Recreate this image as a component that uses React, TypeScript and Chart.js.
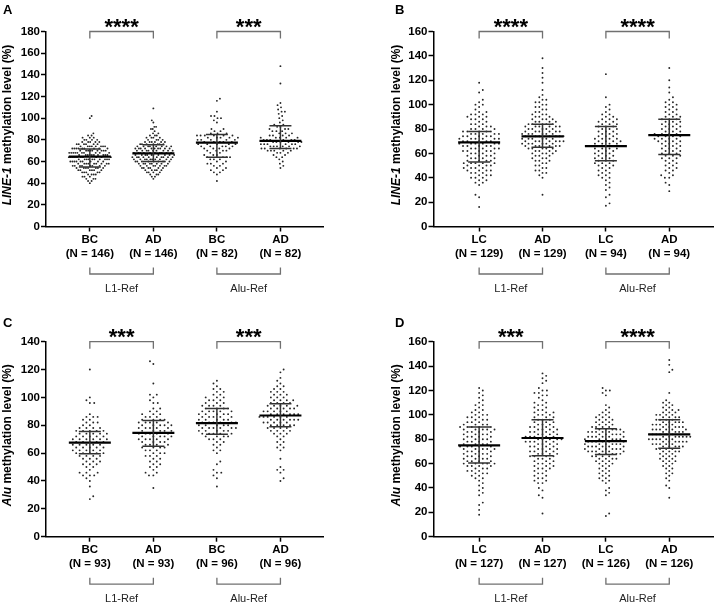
import { useEffect, useRef } from "react";
import { Chart, registerables } from "chart.js";

Chart.register(...registerables);

const FONT = "'Liberation Sans', Arial, Helvetica, sans-serif";
const PAGE_W = 715;
const PAGE_H = 606;
const BIN = 2; // width (in %) of the methylation bins used by the count lists
const Y_AXIS_W = 40;
const X_AXIS_H = 60;
const REST_OF_TITLE = " methylation level (%)";
const REF_LABELS = ["L1-Ref", "Alu-Ref"];

// A group = number of cases per 2 % bin starting at `from`, plus isolated values.
type Group = { from: number; counts: number[]; extra: number[] };

// ---------- Panel A: LINE-1, BC vs AD ----------
const aCats = ["BC", "AD", "BC", "AD"];
const aN = [146, 146, 82, 82];
const aMedian = [64.5, 67.5, 77.5, 79];
const aQ1 = [55, 60, 64, 72];
const aQ3 = [71.5, 75.5, 85, 93];
const aStars = ["****", "***"];
const aBcL1: Group = { from: 40, counts: [1, 2, 3, 3, 4, 5, 6, 7, 8, 9, 9, 10, 10, 10, 10, 9, 9, 8, 6, 5, 4, 3, 2, 1], extra: [100, 102] };
const aAdL1: Group = { from: 44, counts: [1, 2, 3, 4, 5, 6, 7, 8, 9, 10, 10, 10, 10, 9, 10, 8, 7, 6, 4, 4, 3, 2, 1, 2, 2, 0, 1, 1], extra: [109] };
const aBcAlu: Group = { from: 42, counts: [1, 0, 0, 1, 2, 2, 2, 2, 3, 2, 3, 4, 3, 2, 4, 4, 5, 5, 5, 5, 5, 6, 3, 2, 2, 0, 0, 1, 1, 2, 2], extra: [106, 116, 118] };
const aAdAlu: Group = { from: 54, counts: [1, 1, 1, 1, 1, 2, 2, 3, 5, 6, 6, 6, 6, 6, 5, 4, 3, 3, 3, 2, 2, 1, 1, 1, 1, 1, 2, 1, 1, 1, 1], extra: [132, 148] };

// ---------- Panel B: LINE-1, LC vs AD ----------
const bCats = ["LC", "AD", "LC", "AD"];
const bN = [129, 129, 94, 94];
const bMedian = [69, 74, 66, 75];
const bQ1 = [53, 65, 54, 59];
const bQ3 = [78, 84, 82, 88];
const bStars = ["****", "****"];
const bLcL1: Group = { from: 34, counts: [1, 2, 2, 3, 3, 3, 4, 4, 4, 5, 4, 4, 4, 4, 5, 5, 5, 6, 5, 6, 5, 5, 5, 4, 3, 3, 2, 3, 3, 3, 2, 1, 1, 2, 1, 1], extra: [16, 24, 26, 110, 112, 118] };
const bAdL1: Group = { from: 40, counts: [1, 1, 2, 2, 2, 2, 2, 3, 3, 3, 4, 4, 5, 6, 6, 7, 6, 7, 6, 6, 5, 6, 5, 4, 4, 3, 3, 2, 2, 2, 2, 2, 2, 1, 1], extra: [26, 112, 118, 122, 126, 130, 138] };
const bLcAlu: Group = { from: 30, counts: [1, 1, 1, 1, 1, 2, 2, 2, 2, 2, 3, 3, 3, 3, 3, 3, 3, 4, 4, 4, 4, 4, 3, 3, 3, 3, 3, 3, 3, 3, 2, 2, 1, 1, 1, 1], extra: [17, 19, 24, 26, 106, 125] };
const bAdAlu: Group = { from: 34, counts: [1, 1, 0, 2, 2, 1, 2, 2, 2, 2, 2, 3, 3, 3, 3, 3, 3, 3, 4, 4, 4, 4, 3, 3, 3, 3, 3, 3, 3, 2, 2, 2, 2, 2, 2, 1, 1, 0, 1, 0, 1], extra: [29, 120, 130] };

// ---------- Panel C: Alu, BC vs AD ----------
const cCats = ["BC", "AD", "BC", "AD"];
const cN = [93, 93, 96, 96];
const cMedian = [67.5, 74.5, 81.5, 87];
const cQ1 = [59.5, 65, 73.5, 79];
const cQ3 = [75.5, 83.5, 92, 95.5];
const cStars = ["***", "***"];
const cBcL1: Group = { from: 40, counts: [1, 1, 3, 3, 1, 2, 3, 3, 3, 4, 5, 5, 5, 5, 5, 6, 5, 5, 5, 4, 2, 3, 2, 3, 1, 0, 0, 0, 2, 1, 1], extra: [27, 29, 36, 120] };
const cAdL1: Group = { from: 44, counts: [2, 2, 1, 2, 2, 2, 2, 3, 3, 3, 4, 4, 4, 5, 5, 5, 5, 5, 5, 5, 4, 3, 3, 2, 2, 0, 2, 1, 1, 2], extra: [35, 110, 124, 126] };
const cBcAlu: Group = { from: 42, counts: [1, 1, 2, 1, 0, 1, 1, 0, 0, 1, 2, 1, 2, 2, 3, 4, 5, 5, 6, 5, 6, 5, 5, 5, 5, 4, 4, 3, 3, 3, 2, 2, 2, 1, 1, 1], extra: [36] };
const cAdAlu: Group = { from: 40, counts: [1, 1, 0, 1, 2, 1, 0, 0, 1, 0, 0, 1, 2, 1, 2, 1, 2, 3, 4, 4, 5, 5, 6, 6, 6, 5, 5, 5, 4, 4, 3, 3, 3, 2, 2, 1, 1, 1, 0, 1, 1], extra: [] };

// ---------- Panel D: Alu, LC vs AD ----------
const dCats = ["LC", "AD", "LC", "AD"];
const dN = [127, 127, 126, 126];
const dMedian = [75, 81, 78.5, 84];
const dQ1 = [60.5, 66.5, 67.5, 72.5];
const dQ3 = [90, 96, 88.5, 96];
const dStars = ["***", "****"];
const dLcL1: Group = { from: 34, counts: [1, 1, 1, 1, 1, 1, 1, 2, 2, 3, 3, 3, 4, 5, 4, 4, 4, 4, 4, 5, 5, 4, 4, 4, 4, 4, 4, 5, 5, 4, 3, 3, 3, 3, 2, 2, 1, 2, 1, 1, 1, 1, 1, 1, 1], extra: [18, 22, 26, 28] };
const dAdL1: Group = { from: 38, counts: [1, 1, 0, 2, 2, 2, 2, 2, 2, 3, 3, 3, 3, 3, 4, 4, 4, 4, 4, 4, 5, 5, 5, 4, 4, 4, 4, 3, 3, 3, 3, 3, 3, 2, 2, 2, 2, 1, 1, 2, 2, 2, 1, 0, 1, 1, 1, 1, 1], extra: [19, 32, 34] };
const dLcAlu: Group = { from: 34, counts: [1, 1, 1, 1, 0, 1, 2, 2, 2, 2, 2, 2, 2, 3, 3, 4, 4, 5, 6, 6, 6, 6, 6, 6, 6, 5, 6, 5, 4, 3, 3, 3, 3, 2, 2, 1, 1, 1, 0, 0, 0, 1, 1, 2, 1], extra: [17, 19] };
const dAdAlu: Group = { from: 40, counts: [1, 1, 0, 1, 1, 1, 2, 1, 2, 2, 2, 3, 3, 3, 3, 4, 4, 5, 5, 6, 6, 7, 6, 5, 6, 5, 5, 5, 4, 4, 4, 3, 3, 2, 2, 2, 1, 0, 0, 1], extra: [32, 135, 137, 141, 145] };

type Area = { left: number; right: number; top: number; bottom: number };
type PanelSpec = {
  letter: string;
  letterX: number;
  letterY: number;
  titleX: number;
  gene: string;
  cats: string[];
  ns: number[];
  groups: Group[];
  median: number[];
  q1: number[];
  q3: number[];
  stars: string[];
  yMax: number;
  xMin: number;
  xMax: number;
  area: Area;
};

const PANELS: PanelSpec[] = [
  {
    letter: "A", letterX: 3, letterY: 14, titleX: 8, gene: "LINE-1",
    cats: aCats, ns: aN, groups: [aBcL1, aAdL1, aBcAlu, aAdAlu],
    median: aMedian, q1: aQ1, q3: aQ3, stars: aStars, yMax: 180,
    xMin: -0.69, xMax: 3.67, area: { left: 46, right: 323, top: 31.5, bottom: 226.5 },
  },
  {
    letter: "B", letterX: 395, letterY: 14, titleX: 397, gene: "LINE-1",
    cats: bCats, ns: bN, groups: [bLcL1, bAdL1, bLcAlu, bAdAlu],
    median: bMedian, q1: bQ1, q3: bQ3, stars: bStars, yMax: 160,
    xMin: -0.72, xMax: 3.69, area: { left: 433.5, right: 713, top: 31.5, bottom: 226.5 },
  },
  {
    letter: "C", letterX: 3, letterY: 327, titleX: 8, gene: "Alu",
    cats: cCats, ns: cN, groups: [cBcL1, cAdL1, cBcAlu, cAdAlu],
    median: cMedian, q1: cQ1, q3: cQ3, stars: cStars, yMax: 140,
    xMin: -0.69, xMax: 3.67, area: { left: 46, right: 323, top: 341.7, bottom: 536.7 },
  },
  {
    letter: "D", letterX: 395, letterY: 327, titleX: 397, gene: "Alu",
    cats: dCats, ns: dN, groups: [dLcL1, dAdL1, dLcAlu, dAdAlu],
    median: dMedian, q1: dQ1, q3: dQ3, stars: dStars, yMax: 160,
    xMin: -0.72, xMax: 3.69, area: { left: 433.5, right: 713, top: 341.7, bottom: 536.7 },
  },
];

function expand(g: Group): number[] {
  const out: number[] = [];
  g.counts.forEach((c, i) => {
    for (let k = 0; k < c; k++) out.push(g.from + BIN * i);
  });
  return out.concat(g.extra);
}

// Beeswarm: each dot takes the free horizontal slot closest to the centre line.
function swarmOffsets(values: number[], pxPerY: number, diam: number, maxHalf: number): number[] {
  const order = values.map((_, i) => i).sort((a, b) => values[a] - values[b]);
  const placed: { x: number; y: number }[] = [];
  const out = new Array<number>(values.length).fill(0);
  let flip = 1;
  for (const i of order) {
    const y = values[i] * pxPerY;
    const blocks: [number, number][] = [];
    for (const q of placed) {
      const dy = Math.abs(q.y - y);
      if (dy < diam) {
        const h = Math.sqrt(diam * diam - dy * dy);
        blocks.push([q.x - h, q.x + h]);
      }
    }
    const cands = [0];
    for (const [lo, hi] of blocks) cands.push(lo, hi);
    cands.sort((a, b) => Math.abs(a) - Math.abs(b) || flip * (a - b));
    let x = 0;
    for (const c of cands) {
      if (blocks.every(([lo, hi]) => c <= lo + 1e-6 || c >= hi - 1e-6)) {
        x = c;
        break;
      }
    }
    flip = -flip;
    placed.push({ x, y });
    out[i] = x;
  }
  const widest = Math.max(1e-6, ...out.map((v) => Math.abs(v)));
  const k = widest > maxHalf ? maxHalf / widest : 1;
  return out.map((v) => v * k);
}

function annotations(p: PanelSpec) {
  return {
    id: "panelText",
    afterDraw(chart: any) {
      const { ctx, chartArea: a, scales } = chart;
      const cx = (i: number) => scales.x.getPixelForValue(i);
      ctx.save();
      ctx.fillStyle = "#000";

      // panel letter
      ctx.font = `bold 13px ${FONT}`;
      ctx.textAlign = "left";
      ctx.textBaseline = "alphabetic";
      ctx.fillText(p.letter, p.letterX, p.letterY);

      // y-axis title with the italic gene name
      ctx.save();
      ctx.translate(p.titleX, (a.top + a.bottom) / 2 - 4);
      ctx.rotate(-Math.PI / 2);
      ctx.textBaseline = "middle";
      const fItal = `italic bold 12px ${FONT}`;
      const fBold = `bold 12px ${FONT}`;
      ctx.font = fItal;
      const w1 = ctx.measureText(p.gene).width;
      ctx.font = fBold;
      const w2 = ctx.measureText(REST_OF_TITLE).width;
      const x0 = -(w1 + w2) / 2;
      ctx.font = fItal;
      ctx.fillText(p.gene, x0, 0);
      ctx.font = fBold;
      ctx.fillText(REST_OF_TITLE, x0 + w1, 0);
      ctx.restore();

      // significance brackets above, reference brackets below
      ctx.strokeStyle = "#707070";
      ctx.lineWidth = 1.3;
      [[0, 1], [2, 3]].forEach(([i, j], k) => {
        const x1 = cx(i);
        const x2 = cx(j);
        const yt = a.top;
        ctx.beginPath();
        ctx.moveTo(x1, yt + 7);
        ctx.lineTo(x1, yt);
        ctx.lineTo(x2, yt);
        ctx.lineTo(x2, yt + 7);
        ctx.stroke();
        ctx.font = `bold 22px ${FONT}`;
        ctx.textAlign = "center";
        ctx.textBaseline = "alphabetic";
        ctx.fillStyle = "#000";
        ctx.fillText(p.stars[k], (x1 + x2) / 2, yt + 2);

        const yb = a.bottom + 47.5;
        ctx.beginPath();
        ctx.moveTo(x1, yb - 6.5);
        ctx.lineTo(x1, yb);
        ctx.lineTo(x2, yb);
        ctx.lineTo(x2, yb - 6.5);
        ctx.stroke();
        ctx.font = `11px ${FONT}`;
        ctx.textBaseline = "middle";
        ctx.fillStyle = "#222";
        ctx.fillText(REF_LABELS[k], (x1 + x2) / 2, a.bottom + 62.5);
      });
      ctx.restore();
    },
  };
}

function buildConfig(p: PanelSpec): any {
  const { area } = p;
  const pxPerX = (area.right - area.left) / (p.xMax - p.xMin);
  const pxPerY = (area.bottom - area.top) / p.yMax;

  const dots: { x: number; y: number }[] = [];
  p.groups.forEach((g, i) => {
    const vals = expand(g);
    const offs = swarmOffsets(vals, pxPerY, 4.4, 21);
    vals.forEach((v, k) => dots.push({ x: i + offs[k] / pxPerX, y: v }));
  });

  const medHalf = 21 / pxPerX;
  const qHalf = 11 / pxPerX;
  const seg = (pts: { x: number; y: number }[], width: number, color: string) => ({
    type: "scatter",
    data: pts,
    showLine: true,
    borderColor: color,
    backgroundColor: color,
    borderWidth: width,
    pointRadius: 0,
    pointHoverRadius: 0,
    order: 0,
  });
  const lines: any[] = [];
  p.groups.forEach((_, i) => {
    lines.push(seg([{ x: i, y: p.q1[i] }, { x: i, y: p.q3[i] }], 1.5, "#333"));
    lines.push(seg([{ x: i - qHalf, y: p.q1[i] }, { x: i + qHalf, y: p.q1[i] }], 1.5, "#333"));
    lines.push(seg([{ x: i - qHalf, y: p.q3[i] }, { x: i + qHalf, y: p.q3[i] }], 1.5, "#333"));
    lines.push(seg([{ x: i - medHalf, y: p.median[i] }, { x: i + medHalf, y: p.median[i] }], 2.2, "#000"));
  });

  const tickFont = { family: FONT, size: 11.5, weight: "bold" as const, lineHeight: 1.15 };
  const grid = {
    display: true,
    drawOnChartArea: false,
    drawTicks: true,
    tickLength: 5,
    tickColor: "#000",
    tickWidth: 1.5,
  };
  const border = { display: true, color: "#000", width: 1.5 };

  return {
    type: "scatter",
    data: {
      datasets: [
        ...lines,
        {
          type: "scatter",
          data: dots,
          pointRadius: 0.95,
          pointHoverRadius: 0,
          pointBorderWidth: 0,
          backgroundColor: "#262626",
          borderColor: "#262626",
          order: 1,
        },
      ],
    },
    options: {
      responsive: false,
      animation: false,
      devicePixelRatio: 1,
      events: [],
      layout: {
        padding: {
          left: area.left - Y_AXIS_W,
          right: PAGE_W - area.right,
          top: area.top,
          bottom: PAGE_H - area.bottom - X_AXIS_H,
        },
      },
      plugins: { legend: { display: false }, tooltip: { enabled: false }, title: { display: false } },
      scales: {
        x: {
          type: "linear",
          min: p.xMin,
          max: p.xMax,
          afterBuildTicks: (s: any) => {
            s.ticks = p.cats.map((_, i) => ({ value: i }));
          },
          afterFit: (s: any) => {
            s.height = X_AXIS_H;
          },
          ticks: {
            autoSkip: false,
            maxRotation: 0,
            minRotation: 0,
            padding: 2,
            color: "#000",
            font: tickFont,
            callback: (v: number) => [p.cats[v], `(N = ${p.ns[v]})`],
          },
          grid,
          border,
        },
        y: {
          type: "linear",
          min: 0,
          max: p.yMax,
          afterFit: (s: any) => {
            s.width = Y_AXIS_W;
          },
          ticks: { stepSize: 20, padding: 1, color: "#000", font: tickFont },
          grid,
          border,
        },
      },
    },
    plugins: [annotations(p)],
  };
}

function Panel({ spec }: { spec: PanelSpec }) {
  const ref = useRef<HTMLCanvasElement>(null);
  useEffect(() => {
    if (!ref.current) return;
    const chart = new Chart(ref.current, buildConfig(spec));
    return () => chart.destroy();
  }, [spec]);
  return (
    <canvas
      ref={ref}
      width={PAGE_W}
      height={PAGE_H}
      style={{ position: "absolute", left: 0, top: 0, width: PAGE_W, height: PAGE_H }}
    />
  );
}

export default function App() {
  return (
    <div
      style={{
        position: "fixed",
        left: 0,
        top: 0,
        width: PAGE_W,
        height: PAGE_H,
        background: "#fff",
        overflow: "hidden",
      }}
    >
      {PANELS.map((p) => (
        <Panel key={p.letter} spec={p} />
      ))}
    </div>
  );
}
